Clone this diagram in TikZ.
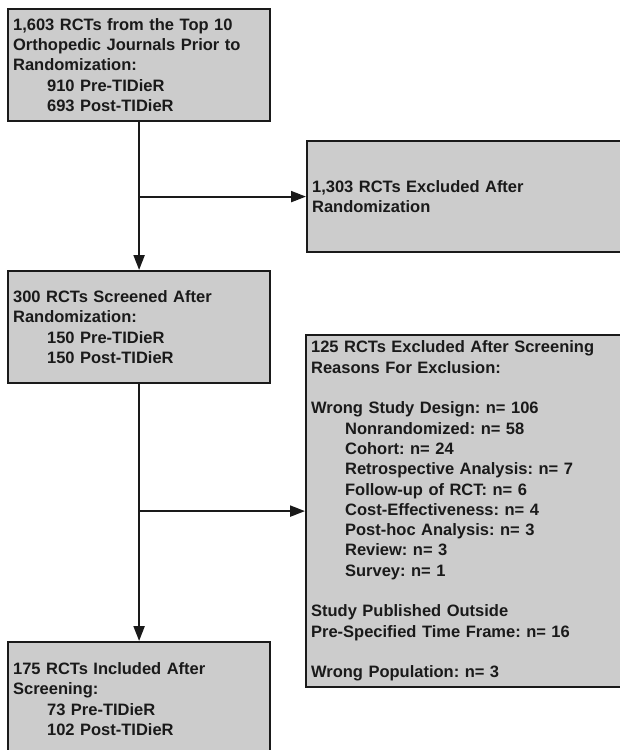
\documentclass[tikz,border=0pt]{standalone}
\usepackage{fontspec}
\setmainfont{Liberation Sans}[BoldFont={Liberation Sans Bold}]
\usetikzlibrary{arrows.meta}
\definecolor{boxgray}{HTML}{CCCCCC}
\definecolor{ink}{HTML}{1A1A1A}
\frenchspacing
\begin{document}
\begin{tikzpicture}[x=1pt,y=-1pt,
  box/.style={draw=ink, fill=boxgray, line width=2.2pt, rectangle, anchor=north west,
    align=left, inner xsep=5pt, inner ysep=0pt, text=ink,
    font=\bfseries\fontsize{16.5}{20.3}\selectfont},
  arr/.style={line width=2.2pt, draw=ink, -{Triangle[length=15pt,width=11pt]}}]
\useasboundingbox (0,0) rectangle (620,750);
\newcommand{\ind}{\hspace*{34pt}}
\node[box, text width=252pt, minimum height=112pt] (b1) at (7,8)
  {1,603 RCTs from the Top 10\\Orthopedic Journals Prior to\\Randomization:\\\ind 910 Pre-TIDieR\\\ind 693 Post-TIDieR};
\node[box, text width=310pt, minimum height=111pt] (b2) at (306,140)
  {1,303 RCTs Excluded After\\Randomization};
\node[box, text width=252pt, minimum height=112pt] (b3) at (7,270)
  {300 RCTs Screened After\\Randomization:\\\ind 150 Pre-TIDieR\\\ind 150 Post-TIDieR};
\node[box, text width=310pt, minimum height=352pt] (b4) at (305,334)
  {125 RCTs Excluded After Screening\\Reasons For Exclusion:\\[20.3pt]
   Wrong Study Design: n= 106\\
   \ind Nonrandomized: n= 58\\
   \ind Cohort: n= 24\\
   \ind Retrospective Analysis: n= 7\\
   \ind Follow-up of RCT: n= 6\\
   \ind Cost-Effectiveness: n= 4\\
   \ind Post-hoc Analysis: n= 3\\
   \ind Review: n= 3\\
   \ind Survey: n= 1\\[20.3pt]
   Study Published Outside\\Pre-Specified Time Frame: n= 16\\[20.3pt]
   Wrong Population: n= 3};
\node[box, text width=252pt, minimum height=114pt] (b5) at (7,641)
  {175 RCTs Included After\\Screening:\\\ind 73 Pre-TIDieR\\\ind 102 Post-TIDieR};
\coordinate (j1) at (b1.south |- b2.west);
\coordinate (j2) at (b3.south |- b4.west);
\draw[arr] (b1.south) -- (b3.north);
\draw[arr] (j1) -- (b2.west);
\draw[arr] (b3.south) -- (b5.north);
\draw[arr] (j2) -- (b4.west);
\end{tikzpicture}
\end{document}
